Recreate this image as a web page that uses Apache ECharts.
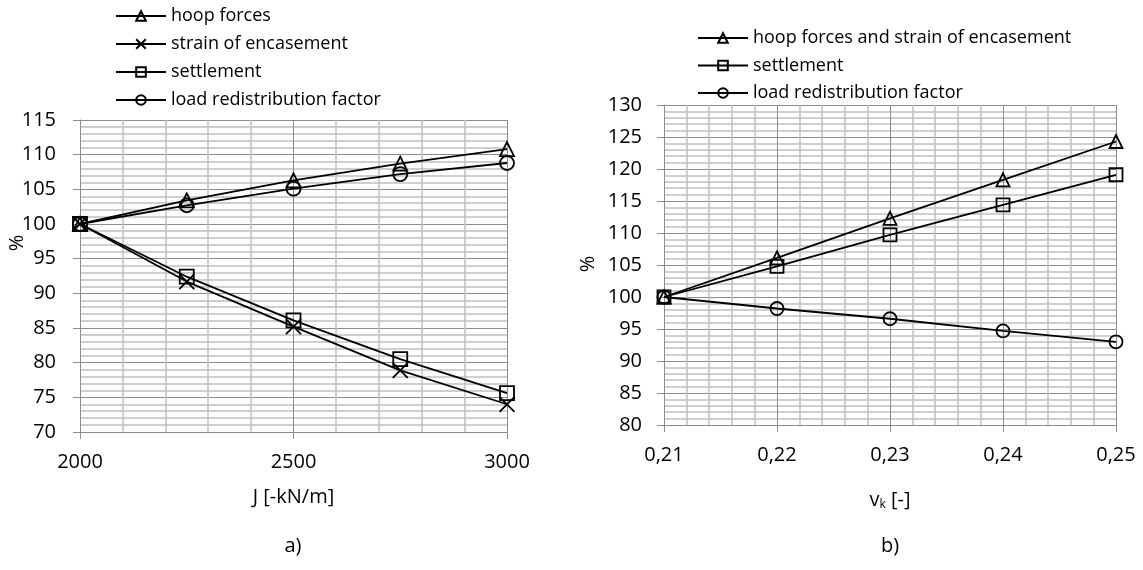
<!DOCTYPE html>
<html>
<head>
<meta charset="utf-8">
<script src="https://cdn.jsdelivr.net/npm/echarts@6/dist/echarts.min.js"></script>
<style>
  html, body { margin: 0; padding: 0; background: #fff; }
  #main { width: 1143px; height: 570px; }
</style>
</head>
<body>
<div id="main"></div>
<script>
// a) stiffness J
const jValues = [2000, 2250, 2500, 2750, 3000];
const hoopA = [100, 103.4, 106.3, 108.7, 110.8];
const strainA = [100, 91.7, 85.2, 78.9, 74.0];
const settleA = [100, 92.4, 86.1, 80.5, 75.6];
const loadA = [100, 102.7, 105.1, 107.2, 108.8];

// b) poisson ratio vk
const vkValues = [0.21, 0.22, 0.23, 0.24, 0.25];
const hoopB = [100, 106.1, 112.3, 118.3, 124.3];
const settleB = [100, 104.8, 109.7, 114.4, 119.1];
const loadB = [100, 98.2, 96.6, 94.7, 93.0];

const legendA = ["hoop forces", "strain of encasement", "settlement", "load redistribution factor"];
const legendB = ["hoop forces and strain of encasement", "settlement ", "load redistribution factor "];

const FONT = "Open Sans";
const majorGrid = "#8c8c8c";
const minorGrid = "#c0c0c0";
const crossPath = "path://M0,0L10,10M10,0L0,10";

const pairs = (xs, ys) => xs.map((x, i) => [x, ys[i]]);

const makeSeries = (name, xs, ys, symbol, size, idx) => ({
  name: name,
  type: "line",
  xAxisIndex: idx,
  yAxisIndex: idx,
  data: pairs(xs, ys),
  symbol: symbol,
  symbolSize: size,
  showAllSymbol: true,
  lineStyle: { color: "#000", width: 1.8 },
  itemStyle: { color: "transparent", borderColor: "#000", borderWidth: 1.8 },
  emphasis: { disabled: true },
  animation: false
});

const axisCommon = {
  axisLine: { show: true, lineStyle: { color: majorGrid, width: 1 } },
  axisTick: { show: true, length: 7, lineStyle: { color: majorGrid } },
  splitLine: { show: true, lineStyle: { color: majorGrid, width: 1 } },
  minorTick: { show: false, splitNumber: 5 },
  minorSplitLine: { show: true, lineStyle: { color: minorGrid, width: 1.5 } },
  axisLabel: { color: "#000", fontFamily: FONT, fontSize: 20 }
};

const legendText = { fontFamily: FONT, fontSize: 18, color: "#000" };

const chart = echarts.init(document.getElementById("main"));

const option = {
  backgroundColor: "#fff",
  animation: false,
  grid: [
    { left: 80, top: 120, width: 427, height: 312 },
    { left: 664, top: 105, width: 452, height: 320 }
  ],
  legend: [
    {
      data: legendA,
      orient: "vertical",
      left: 110,
      top: 2,
      itemWidth: 50,
      itemHeight: 12,
      itemGap: 10,
      textStyle: legendText,
      selectedMode: false
    },
    {
      data: legendB,
      orient: "vertical",
      left: 692,
      top: 24,
      itemWidth: 50,
      itemHeight: 12,
      itemGap: 9.5,
      textStyle: legendText,
      selectedMode: false
    }
  ],
  xAxis: [
    Object.assign({}, axisCommon, {
      type: "value",
      gridIndex: 0,
      min: 2000,
      max: 3000,
      interval: 500,
      axisLabel: Object.assign({}, axisCommon.axisLabel, {
        margin: 20,
        formatter: (v) => String(v)
      }),
      name: "J [-kN/m]",
      nameLocation: "middle",
      nameGap: 55,
      nameTextStyle: { fontFamily: FONT, fontSize: 20, color: "#000" }
    }),
    Object.assign({}, axisCommon, {
      type: "value",
      gridIndex: 1,
      min: 0.21,
      max: 0.25,
      interval: 0.01,
      axisLabel: Object.assign({}, axisCommon.axisLabel, {
        margin: 20,
        formatter: (v) => v.toFixed(2).replace(".", ",")
      }),
      name: "{a|v}{b|k}{a| [-]}",
      nameLocation: "middle",
      nameGap: 64,
      nameTextStyle: {
        rich: {
          a: { fontFamily: FONT, fontSize: 20, color: "#000" },
          b: { fontFamily: FONT, fontSize: 12, color: "#000", padding: [10, 0, 0, 0] }
        }
      }
    })
  ],
  yAxis: [
    Object.assign({}, axisCommon, {
      type: "value",
      gridIndex: 0,
      min: 70,
      max: 115,
      interval: 5,
      axisLabel: Object.assign({}, axisCommon.axisLabel, { margin: 24 })
    }),
    Object.assign({}, axisCommon, {
      type: "value",
      gridIndex: 1,
      min: 80,
      max: 130,
      interval: 5,
      axisLabel: Object.assign({}, axisCommon.axisLabel, { margin: 22 })
    })
  ],
  series: [
    makeSeries("hoop forces", jValues, hoopA, "triangle", 14, 0),
    makeSeries("strain of encasement", jValues, strainA, crossPath, 15, 0),
    makeSeries("settlement", jValues, settleA, "rect", 14, 0),
    makeSeries("load redistribution factor", jValues, loadA, "circle", 14, 0),
    makeSeries("hoop forces and strain of encasement", vkValues, hoopB, "triangle", 13, 1),
    makeSeries("settlement ", vkValues, settleB, "rect", 13, 1),
    makeSeries("load redistribution factor ", vkValues, loadB, "circle", 13, 1)
  ],
  graphic: [
    {
      type: "text", x: 17, y: 243, rotation: Math.PI / 2,
      style: { text: "%", fontFamily: FONT, fontSize: 20, fill: "#000", align: "center", verticalAlign: "middle" }
    },
    {
      type: "text", x: 588, y: 264, rotation: Math.PI / 2,
      style: { text: "%", fontFamily: FONT, fontSize: 20, fill: "#000", align: "center", verticalAlign: "middle" }
    },
    {
      type: "text", x: 293, y: 546,
      style: { text: "a)", fontFamily: FONT, fontSize: 20, fill: "#000", align: "center", verticalAlign: "middle" }
    },
    {
      type: "text", x: 890, y: 546,
      style: { text: "b)", fontFamily: FONT, fontSize: 20, fill: "#000", align: "center", verticalAlign: "middle" }
    }
  ]
};

chart.setOption(option);
</script>
</body>
</html>
